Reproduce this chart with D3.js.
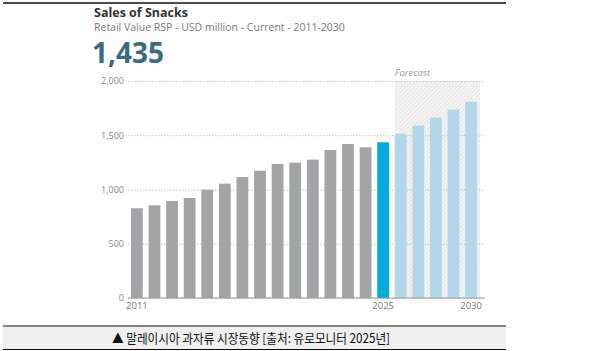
<!DOCTYPE html>
<html lang="en">
<head>
<meta charset="UTF-8">
<title>Sales of Snacks</title>
<script src="https://d3js.org/d3.v7.min.js"></script>
<style>
  body { margin: 0; background: #fff; }
  svg text { font-family: "Open Sans", Lato, sans-serif; }
</style>
</head>
<body>
<svg id="chart" width="592" height="351"></svg>
<script>
// data
const years = d3.range(2011, 2031).map(String);
const sales = [827, 854, 894, 922, 998, 1054, 1115, 1173, 1235, 1247, 1275, 1364, 1419, 1389, 1435,
               1514, 1588, 1662, 1735, 1809];
const yTicks = [0, 500, 1000, 1500, 2000];
const xLabels = ['2011', '2025', '2030'];
const currentYear = '2025';
const forecastStart = '2026';

const svg = d3.select('#chart');

const x = d3.scaleBand()
    .domain(years)
    .range([128, 480])
    .paddingInner(0.33)
    .paddingOuter(0.17);

const y = d3.scaleLinear()
    .domain([0, 2000])
    .range([298, 81]);

// hatch pattern for the forecast zone
const defs = svg.append('defs');
const pat = defs.append('pattern')
    .attr('id', 'hatch')
    .attr('patternUnits', 'userSpaceOnUse')
    .attr('width', 3).attr('height', 3)
    .attr('patternTransform', 'rotate(45)');
pat.append('rect').attr('width', 3).attr('height', 3).attr('fill', '#f4f4f4');
pat.append('line').attr('x1', 0).attr('y1', 0).attr('x2', 0).attr('y2', 3)
    .attr('stroke', '#dcdcdc').attr('stroke-width', 1.2);

// top rule
svg.append('line')
    .attr('x1', 3).attr('x2', 506).attr('y1', 3).attr('y2', 3)
    .attr('stroke', '#111').attr('stroke-width', 1.5);

// headings
svg.append('text').attr('x', 94).attr('y', 17)
    .attr('font-size', 12.5).attr('font-weight', 700).attr('fill', '#333')
    .text('Sales of Snacks');
svg.append('text').attr('x', 94).attr('y', 31)
    .attr('font-size', 10.5).attr('fill', '#7a7a7a')
    .text('Retail Value RSP - USD million - Current - 2011-2030');
svg.append('text').attr('x', 92).attr('y', 63)
    .attr('font-size', 28).attr('font-weight', 700).attr('fill', '#3b6983')
    .text(d3.format(',')(sales[years.indexOf(currentYear)]));

// forecast zone
const fx0 = x(forecastStart);
svg.append('rect')
    .attr('x', fx0).attr('y', y(2000))
    .attr('width', 480 - fx0).attr('height', y(0) - y(2000))
    .attr('fill', 'url(#hatch)');
svg.append('text').attr('x', fx0).attr('y', 76)
    .attr('font-size', 9.5).attr('font-style', 'italic').attr('fill', '#999')
    .text('Forecast');

// grid + y labels
const yAxis = svg.append('g')
    .attr('transform', 'translate(128,0)')
    .call(d3.axisLeft(y).tickValues(yTicks).tickSize(-357).tickPadding(4).tickFormat(d3.format(',')));
yAxis.select('.domain').remove();
yAxis.selectAll('.tick line')
    .attr('stroke', '#c4c4c4').attr('stroke-dasharray', '1.5,1.5');
yAxis.selectAll('.tick text')
    .attr('fill', '#888').attr('font-size', 9);

// bars
svg.selectAll('.bar')
    .data(years)
    .enter().append('rect')
    .attr('class', 'bar')
    .attr('x', d => x(d))
    .attr('width', x.bandwidth())
    .attr('y', (d, i) => y(sales[i]))
    .attr('height', (d, i) => y(0) - y(sales[i]))
    .attr('fill', d => d === currentYear ? '#00acd9' : (+d > +currentYear ? '#b2d7ea' : '#a3a4a6'));

// x axis
const xAxis = svg.append('g')
    .attr('transform', `translate(0,${y(0)})`)
    .call(d3.axisBottom(x).tickValues(xLabels).tickSize(0).tickPadding(4));
xAxis.select('.domain').remove();
xAxis.selectAll('.tick text')
    .attr('fill', '#777').attr('font-size', 9.5);
svg.append('line')
    .attr('x1', 128).attr('x2', 485).attr('y1', y(0)).attr('y2', y(0))
    .attr('stroke', '#999').attr('stroke-width', 1.2);

// caption box
svg.append('rect')
    .attr('x', 3).attr('y', 326).attr('width', 503).attr('height', 23.5)
    .attr('fill', '#efefef');
svg.append('line').attr('x1', 3).attr('x2', 506).attr('y1', 326).attr('y2', 326)
    .attr('stroke', '#111').attr('stroke-width', 1.2);
svg.append('line').attr('x1', 3).attr('x2', 506).attr('y1', 349.5).attr('y2', 349.5)
    .attr('stroke', '#111').attr('stroke-width', 1.2);
svg.append('text')
    .attr('x', 251).attr('y', 342.5)
    .attr('text-anchor', 'middle')
    .attr('font-size', 13).attr('fill', '#111')
    .attr('textLength', 278).attr('lengthAdjust', 'spacingAndGlyphs')
    .style('font-family', '"Noto Sans CJK KR", sans-serif')
    .text('▲ 말레이시아 과자류 시장동향 [출처: 유로모니터 2025년]');
</script>
</body>
</html>
